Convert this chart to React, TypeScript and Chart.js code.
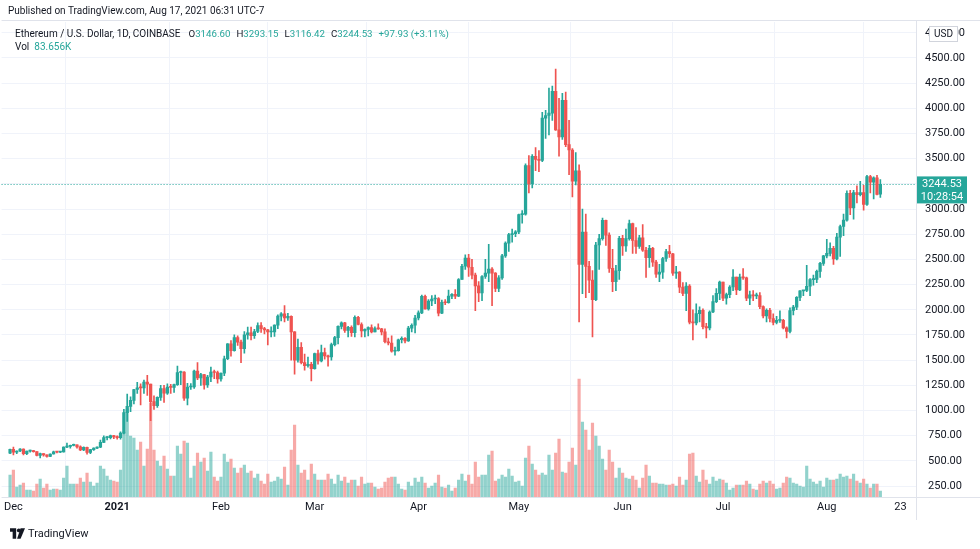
import React, { useEffect, useRef } from 'react';
import { Chart, registerables } from 'chart.js';

Chart.register(...registerables);

// OHLC per month: [open, high, low, close]
const nov2020 = [[575, 616, 570, 614]];
const dec2020 = [
  [614, 637, 560, 587], [587, 599, 570, 598], [598, 622, 591, 616], [616, 619, 560, 570], [570, 597, 562, 596],
  [596, 606, 585, 601], [601, 604, 585, 591], [591, 592, 548, 554], [554, 577, 530, 573], [573, 573, 547, 559],
  [559, 560, 536, 545], [545, 570, 542, 568], [568, 598, 565, 590], [590, 592, 578, 586], [586, 594, 580, 589],
  [589, 639, 585, 636], [636, 676, 631, 643], [643, 656, 627, 654], [654, 667, 647, 658], [658, 660, 625, 638],
  [638, 650, 600, 609], [609, 638, 601, 635], [635, 637, 565, 583], [583, 615, 571, 612], [612, 629, 604, 626],
  [626, 638, 621, 635], [635, 705, 630, 683], [683, 748, 681, 731], [731, 741, 708, 731], [731, 755, 718, 751],
  [751, 754, 720, 737],
];
const jan2021 = [
  [737, 749, 714, 730], [730, 787, 715, 775], [775, 1011, 768, 978], [978, 1162, 892, 1041], [1041, 1136, 987, 1100],
  [1100, 1210, 1065, 1208], [1208, 1280, 1170, 1225], [1225, 1265, 1055, 1224], [1224, 1303, 1169, 1281], [1281, 1350, 1150, 1262],
  [1262, 1262, 900, 1088], [1088, 1145, 1010, 1048], [1048, 1136, 1030, 1130], [1130, 1250, 1100, 1218], [1218, 1250, 1080, 1172],
  [1172, 1265, 1160, 1233], [1233, 1260, 1170, 1230], [1230, 1262, 1180, 1257], [1257, 1440, 1250, 1377], [1377, 1390, 1256, 1382],
  [1382, 1385, 1100, 1121], [1121, 1270, 1055, 1233], [1233, 1266, 1210, 1234], [1234, 1400, 1220, 1392], [1392, 1475, 1305, 1324],
  [1324, 1370, 1250, 1357], [1357, 1360, 1212, 1253], [1253, 1350, 1230, 1332], [1332, 1430, 1285, 1382], [1382, 1400, 1315, 1377],
  [1377, 1390, 1270, 1314],
];
const feb2021 = [
  [1314, 1375, 1290, 1370], [1370, 1540, 1346, 1514], [1514, 1665, 1504, 1661], [1661, 1695, 1540, 1593], [1593, 1750, 1590, 1723],
  [1723, 1740, 1645, 1678], [1678, 1700, 1475, 1614], [1614, 1784, 1570, 1750], [1750, 1828, 1708, 1770], [1770, 1827, 1700, 1743],
  [1743, 1805, 1715, 1784], [1784, 1870, 1773, 1843], [1843, 1872, 1775, 1813], [1813, 1825, 1760, 1801], [1801, 1805, 1650, 1779],
  [1779, 1830, 1730, 1781], [1781, 1850, 1735, 1848], [1848, 1950, 1812, 1937], [1937, 1973, 1890, 1960], [1960, 2041, 1880, 1919],
  [1919, 1965, 1895, 1935], [1935, 1940, 1500, 1781], [1781, 1784, 1360, 1500], [1500, 1710, 1480, 1626], [1626, 1675, 1462, 1475],
  [1475, 1559, 1400, 1446], [1446, 1530, 1430, 1459], [1459, 1478, 1293, 1416],
];
const mar2021 = [
  [1416, 1570, 1410, 1565], [1565, 1600, 1461, 1492], [1492, 1650, 1482, 1574], [1574, 1620, 1510, 1541], [1541, 1550, 1440, 1533],
  [1533, 1670, 1500, 1654], [1654, 1735, 1640, 1723], [1723, 1840, 1660, 1835], [1835, 1880, 1810, 1869], [1869, 1875, 1775, 1795],
  [1795, 1835, 1730, 1825], [1825, 1840, 1735, 1772], [1772, 1940, 1730, 1924], [1924, 1935, 1850, 1854], [1854, 1870, 1730, 1791],
  [1791, 1810, 1730, 1806], [1806, 1830, 1740, 1823], [1823, 1850, 1770, 1781], [1781, 1830, 1780, 1813], [1813, 1860, 1805, 1810],
  [1810, 1815, 1750, 1781], [1781, 1810, 1670, 1682], [1682, 1720, 1650, 1670], [1670, 1740, 1580, 1588], [1588, 1630, 1550, 1595],
  [1595, 1710, 1590, 1702], [1702, 1730, 1670, 1716], [1716, 1725, 1670, 1691], [1691, 1835, 1685, 1818], [1818, 1860, 1780, 1846],
  [1846, 1945, 1770, 1918],
];
const apr2021 = [
  [1918, 1990, 1900, 1969], [1969, 2145, 1960, 2134], [2134, 2145, 2005, 2008], [2008, 2100, 1995, 2087], [2087, 2140, 2040, 2107],
  [2107, 2145, 2060, 2112], [2112, 2120, 1940, 1965], [1965, 2095, 1960, 2075], [2075, 2100, 2050, 2070], [2070, 2195, 2066, 2135],
  [2135, 2160, 2110, 2153], [2153, 2200, 2110, 2136], [2136, 2310, 2130, 2300], [2300, 2450, 2300, 2432], [2432, 2545, 2400, 2514],
  [2514, 2550, 2330, 2422], [2422, 2500, 2305, 2344], [2344, 2365, 1990, 2237], [2237, 2280, 2080, 2166], [2166, 2340, 2090, 2330],
  [2330, 2500, 2310, 2364], [2364, 2650, 2280, 2404], [2404, 2420, 2040, 2363], [2363, 2370, 2180, 2211], [2211, 2340, 2180, 2316],
  [2316, 2550, 2300, 2535], [2535, 2675, 2520, 2662], [2662, 2760, 2580, 2746], [2746, 2800, 2670, 2756], [2756, 2785, 2725, 2773],
];
const may2021 = [
  [2773, 2950, 2755, 2945], [2945, 2985, 2860, 2950], [2950, 3450, 2940, 3431], [3431, 3530, 3160, 3253], [3253, 3540, 3210, 3523],
  [3523, 3610, 3380, 3493], [3493, 3580, 3370, 3483], [3483, 3960, 3470, 3902], [3902, 3980, 3700, 3929], [3929, 4200, 3735, 3952],
  [3952, 4220, 3880, 4168], [4168, 4390, 3780, 3786], [3786, 4100, 3525, 3715], [3715, 4150, 3690, 4079], [4079, 4160, 3620, 3640],
  [3640, 3880, 3340, 3586], [3586, 3600, 3120, 3276], [3276, 3560, 3240, 3380], [3380, 3440, 1880, 2450], [2450, 3000, 2160, 2770],
  [2770, 2950, 2120, 2430], [2430, 2480, 2170, 2295], [2295, 2390, 1730, 2100], [2100, 2670, 2090, 2643], [2643, 2750, 2400, 2706],
  [2706, 2910, 2690, 2888], [2888, 2890, 2640, 2741], [2741, 2765, 2370, 2411], [2411, 2600, 2180, 2279], [2279, 2440, 2190, 2387],
  [2387, 2730, 2300, 2710],
];
const jun2021 = [
  [2710, 2740, 2540, 2633], [2633, 2800, 2580, 2706], [2706, 2890, 2690, 2856], [2856, 2860, 2560, 2688], [2688, 2815, 2560, 2630],
  [2630, 2740, 2610, 2713], [2713, 2845, 2580, 2591], [2591, 2620, 2320, 2516], [2516, 2640, 2420, 2609], [2609, 2620, 2430, 2473],
  [2473, 2490, 2320, 2354], [2354, 2450, 2280, 2373], [2373, 2520, 2310, 2509], [2509, 2600, 2480, 2578], [2578, 2640, 2520, 2556],
  [2556, 2560, 2340, 2364], [2364, 2430, 2310, 2373], [2373, 2380, 2170, 2225], [2225, 2270, 2140, 2163], [2163, 2270, 1990, 2236],
  [2236, 2250, 1860, 1876], [1876, 2000, 1700, 1870], [1870, 2060, 1850, 1962], [1962, 2030, 1880, 1994], [1994, 2010, 1810, 1832],
  [1832, 1865, 1720, 1820], [1820, 1990, 1800, 1978], [1978, 2140, 1970, 2080], [2080, 2210, 2070, 2162], [2162, 2285, 2100, 2276],
];
const jul2021 = [
  [2276, 2276, 2090, 2114], [2114, 2165, 2055, 2150], [2150, 2240, 2120, 2226], [2226, 2400, 2190, 2325], [2325, 2325, 2150, 2197],
  [2197, 2355, 2190, 2324], [2324, 2410, 2300, 2316], [2316, 2325, 2090, 2115], [2115, 2185, 2050, 2148], [2148, 2190, 2090, 2138],
  [2138, 2165, 2110, 2140], [2140, 2170, 2010, 2031], [2031, 2040, 1920, 1940], [1940, 2010, 1880, 1994], [1994, 2015, 1880, 1913],
  [1913, 1960, 1850, 1874], [1874, 1935, 1860, 1895], [1895, 1990, 1875, 1895], [1895, 1905, 1810, 1820], [1820, 1830, 1720, 1786],
  [1786, 2020, 1770, 1993], [1993, 2045, 1950, 2026], [2026, 2130, 2000, 2123], [2123, 2190, 2090, 2187], [2187, 2192, 2140, 2191],
  [2191, 2440, 2180, 2233], [2233, 2310, 2140, 2299], [2299, 2345, 2245, 2300], [2300, 2395, 2270, 2381], [2381, 2470, 2320, 2461],
  [2461, 2540, 2440, 2535],
];
const aug2021 = [
  [2535, 2700, 2515, 2560], [2560, 2665, 2535, 2609], [2609, 2630, 2450, 2505], [2505, 2760, 2495, 2721], [2721, 2840, 2530, 2827],
  [2827, 2950, 2735, 2890], [2890, 3180, 2880, 3155], [3155, 3185, 2945, 3012], [3012, 3185, 2900, 3163], [3163, 3230, 3060, 3143],
  [3143, 3275, 3130, 3164], [3164, 3235, 2990, 3046], [3046, 3335, 3035, 3322], [3322, 3335, 3160, 3267], [3267, 3320, 3100, 3310],
  [3310, 3335, 3140, 3146], [3146.6, 3293.15, 3116.42, 3244.53],
];

// Volume (thousands of ETH) per month
const volNov2020 = [308];
const volDec2020 = [378, 140, 168, 196, 98, 98, 84, 182, 252, 126, 182, 98, 112, 112, 98, 266, 434, 182, 182, 182, 266, 210, 336, 210, 154, 196, 434, 392, 294, 238, 224];
const volJan2021 = [210, 378, 910, 1232, 854, 826, 658, 770, 434, 672, 1316, 658, 504, 434, 574, 392, 294, 294, 714, 602, 784, 756, 266, 434, 616, 490, 546, 364, 630, 280, 224];
const volFeb2021 = [280, 602, 490, 532, 406, 336, 406, 448, 336, 364, 266, 322, 224, 182, 322, 210, 224, 280, 252, 420, 168, 658, 1008, 448, 336, 378, 238, 462];
const volMar2021 = [322, 238, 238, 238, 322, 252, 182, 308, 224, 280, 196, 238, 238, 154, 280, 182, 196, 196, 140, 112, 126, 210, 266, 280, 280, 182, 112, 98, 210, 154, 266];
const volApr2021 = [210, 280, 196, 126, 154, 196, 308, 140, 126, 168, 84, 126, 238, 322, 224, 308, 182, 490, 280, 308, 308, 588, 644, 224, 252, 308, 280, 392, 294, 210];
const volMay2021 = [224, 154, 546, 714, 462, 378, 308, 336, 308, 588, 378, 616, 812, 350, 336, 490, 686, 448, 1652, 1050, 938, 658, 1036, 854, 714, 532, 378, 658, 490, 266, 406];
const volJun2021 = [336, 266, 252, 294, 238, 126, 266, 448, 294, 196, 196, 182, 182, 168, 168, 182, 154, 280, 168, 238, 602, 616, 294, 210, 378, 238, 182, 280, 224, 252];
const volJul2021 = [238, 196, 98, 126, 168, 168, 168, 224, 182, 112, 98, 182, 224, 196, 224, 182, 112, 126, 196, 280, 266, 196, 182, 154, 140, 434, 252, 210, 182, 224, 140];
const volAug2021 = [266, 238, 238, 252, 322, 280, 294, 252, 322, 224, 196, 252, 182, 126, 182, 182, 83.656];

// Axis ticks (index 0 = 30 Nov 2020)
const TIME_TICKS = [1, 32, 63, 91, 122, 152, 183, 213, 244, 266];
const TIME_LABELS = ['Dec', '2021', 'Feb', 'Mar', 'Apr', 'May', 'Jun', 'Jul', 'Aug', '23'];
const PRICE_TICKS = [250, 500, 750, 1000, 1250, 1500, 1750, 2000, 2250, 2500, 2750, 3000, 3250, 3500, 3750, 4000, 4250, 4500, 4750];
const LAST_PRICE = 3244.53;

const UP = '#26a69a';
const DOWN = '#ef5350';
const UP_VOL = 'rgba(38,166,154,0.5)';
const DOWN_VOL = 'rgba(239,83,80,0.5)';
const FONT = 'Roboto, "Liberation Sans", sans-serif';

export default function App() {
  const ref = useRef<HTMLCanvasElement>(null);

  useEffect(() => {
    document.body.style.margin = '0';
    const ohlc = [...nov2020, ...dec2020, ...jan2021, ...feb2021, ...mar2021, ...apr2021, ...may2021, ...jun2021, ...jul2021, ...aug2021];
    const vols = [...volNov2020, ...volDec2020, ...volJan2021, ...volFeb2021, ...volMar2021, ...volApr2021, ...volMay2021, ...volJun2021, ...volJul2021, ...volAug2021];
    const isUp = ohlc.map((c) => c[3] >= c[0]);

    const overlay = {
      id: 'overlay',
      beforeDatasetsDraw(chart: any) {
        const { ctx, chartArea } = chart;
        const y = Math.round(chart.scales.y.getPixelForValue(LAST_PRICE)) + 0.5;
        ctx.save();
        ctx.strokeStyle = UP;
        ctx.lineWidth = 1;
        ctx.setLineDash([1, 2]);
        ctx.beginPath();
        ctx.moveTo(chartArea.left, y);
        ctx.lineTo(chartArea.right, y);
        ctx.stroke();
        ctx.restore();
      },
      afterDraw(chart: any) {
        const { ctx, chartArea } = chart;
        const y = chart.scales.y.getPixelForValue(LAST_PRICE);
        ctx.save();
        // borders
        ctx.strokeStyle = '#e0e3eb';
        ctx.lineWidth = 1;
        ctx.beginPath();
        ctx.moveTo(chartArea.left, chartArea.top - 1.5);
        ctx.lineTo(980, chartArea.top - 1.5);
        ctx.moveTo(chartArea.right + 0.5, chartArea.top - 1.5);
        ctx.lineTo(chartArea.right + 0.5, chartArea.bottom + 23);
        ctx.moveTo(chartArea.left, chartArea.bottom + 0.5);
        ctx.lineTo(980, chartArea.bottom + 0.5);
        ctx.stroke();
        // last price label
        ctx.fillStyle = UP;
        ctx.fillRect(chartArea.right + 1, y - 8, 50, 27);
        ctx.fillStyle = '#ffffff';
        ctx.font = `11px ${FONT}`;
        ctx.textAlign = 'center';
        ctx.textBaseline = 'middle';
        ctx.fillText('3244.53', chartArea.right + 26, y);
        ctx.fillText('10:28:54', chartArea.right + 26, y + 12.5);
        // currency box
        ctx.fillStyle = '#ffffff';
        ctx.fillRect(929.5, 26.5, 28, 15);
        ctx.strokeStyle = '#d1d4dc';
        ctx.strokeRect(929.5, 26.5, 28, 15);
        ctx.fillStyle = '#131722';
        ctx.font = `10px ${FONT}`;
        ctx.fillText('USD', 943.5, 34.5);
        ctx.restore();
      },
    };

    const chart = new Chart(ref.current as HTMLCanvasElement, {
      type: 'bar',
      data: {
        datasets: [
          {
            label: 'Volume',
            data: vols.map((v, i) => ({ x: i, y: v })),
            yAxisID: 'yv',
            backgroundColor: isUp.map((u) => (u ? UP_VOL : DOWN_VOL)),
            barThickness: 2.5,
            grouped: false,
            order: 3,
          } as any,
          {
            label: 'Wick',
            data: ohlc.map((c, i) => ({ x: i, y: [c[2], c[1]] })),
            yAxisID: 'y',
            backgroundColor: isUp.map((u) => (u ? UP : DOWN)),
            barThickness: 1,
            grouped: false,
            order: 2,
          } as any,
          {
            label: 'Body',
            data: ohlc.map((c, i) => ({ x: i, y: [c[0], c[3]] })),
            yAxisID: 'y',
            backgroundColor: isUp.map((u) => (u ? UP : DOWN)),
            barThickness: 2.6,
            minBarLength: 1,
            grouped: false,
            order: 1,
          } as any,
        ],
      },
      options: {
        animation: false,
        responsive: false,
        maintainAspectRatio: false,
        layout: { padding: { top: 22, right: 6, bottom: 29, left: 0 } },
        plugins: { legend: { display: false }, tooltip: { enabled: false } },
        scales: {
          x: {
            type: 'linear',
            min: -2.535,
            max: 270.65,
            offset: false,
            grid: { color: '#f0f3fa', drawTicks: false },
            border: { display: false },
            afterBuildTicks: (scale: any) => {
              scale.ticks = TIME_TICKS.map((v) => ({ value: v }));
            },
            afterFit: (scale: any) => {
              scale.height = 23;
            },
            ticks: {
              autoSkip: false,
              maxRotation: 0,
              padding: 4,
              color: '#131722',
              font: (ctx: any) => ({
                family: FONT,
                size: 11,
                weight: ctx.tick && ctx.tick.label === '2021' ? 'bold' : 'normal',
              }),
              callback: (value: any) => {
                const k = TIME_TICKS.indexOf(value);
                return k >= 0 ? TIME_LABELS[k] : '';
              },
            },
          },
          y: {
            position: 'right',
            min: 141,
            max: 4857,
            grid: { color: '#f0f3fa', drawTicks: false },
            border: { display: false },
            afterBuildTicks: (scale: any) => {
              scale.ticks = PRICE_TICKS.map((v) => ({ value: v }));
            },
            afterFit: (scale: any) => {
              scale.width = 58;
            },
            ticks: {
              padding: 9,
              crossAlign: 'center',
              color: '#131722',
              font: { family: FONT, size: 11 },
              callback: (value: any) => Number(value).toFixed(2),
            },
          },
          yv: {
            display: false,
            min: 0,
            max: 6650,
          },
        },
      } as any,
      plugins: [overlay],
    });
    return () => chart.destroy();
  }, []);

  const teal = { color: UP, fontSize: 9.7 };
  const lbl = { marginLeft: 6, fontSize: 9.7 };
  return (
    <div style={{ position: 'relative', width: 980, height: 549, background: '#ffffff', overflow: 'hidden', fontFamily: FONT, color: '#131722' }}>
      <canvas ref={ref} width={980} height={549} style={{ position: 'absolute', left: 0, top: 0 }} />
      <div style={{ position: 'absolute', left: 8, top: 5, fontSize: 10, whiteSpace: 'nowrap' }}>
        Published on TradingView.com, Aug 17, 2021 06:31 UTC-7
      </div>
      <div style={{ position: 'absolute', left: 15, top: 28, fontSize: 10, whiteSpace: 'nowrap' }}>
        <span>Ethereum / U.S. Dollar, 1D, COINBASE</span>
        <span style={{ ...lbl, marginLeft: 8 }}>O</span><span style={teal}>3146.60</span>
        <span style={lbl}>H</span><span style={teal}>3293.15</span>
        <span style={lbl}>L</span><span style={teal}>3116.42</span>
        <span style={lbl}>C</span><span style={teal}>3244.53</span>
        <span style={{ ...lbl, color: UP }}>+97.93 (+3.11%)</span>
      </div>
      <div style={{ position: 'absolute', left: 15, top: 41, fontSize: 10, whiteSpace: 'nowrap' }}>
        <span>Vol</span><span style={{ marginLeft: 5, color: UP }}>83.656K</span>
      </div>
      <div style={{ position: 'absolute', left: 10, top: 527, display: 'flex', alignItems: 'center', whiteSpace: 'nowrap' }}>
        <svg width="15" height="11" viewBox="0 0 17 12" style={{ marginRight: 3 }}>
          <path d="M0 0 H7 V12 H3 V4 H0 Z" fill="#131722" />
          <circle cx="10" cy="2.5" r="2.2" fill="#131722" />
          <path d="M12 0 H17 L12 12 H8 Z" fill="#131722" />
        </svg>
        <span style={{ fontSize: 11, color: '#131722' }}>TradingView</span>
      </div>
    </div>
  );
}
